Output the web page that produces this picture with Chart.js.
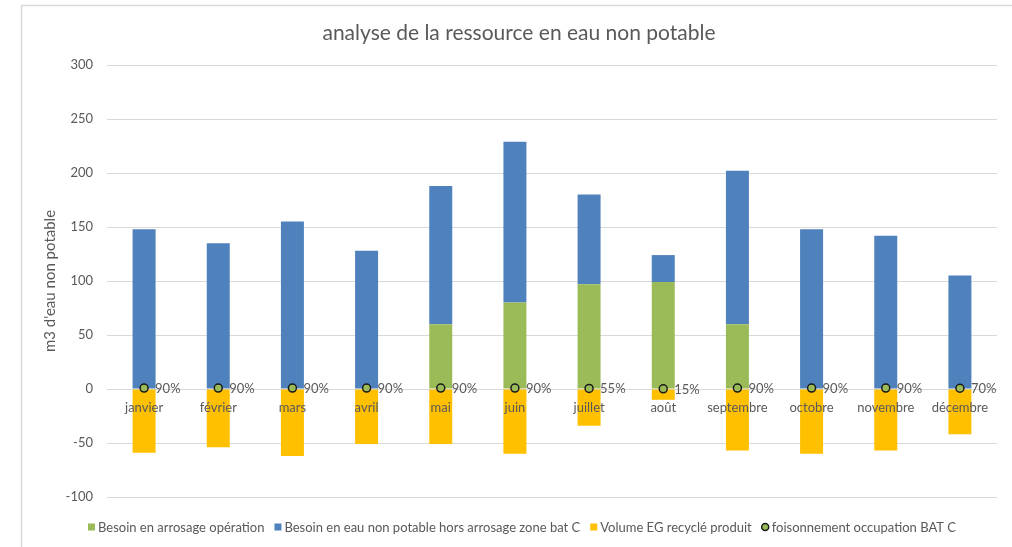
<!DOCTYPE html>
<html>
<head>
<meta charset="utf-8">
<script src="https://cdn.jsdelivr.net/npm/chart.js@4/dist/chart.umd.min.js"></script>
<style>
  html, body { margin: 0; padding: 0; background: #fff; overflow: hidden; }
  #wrap { position: absolute; left: 0; top: 0; width: 1012px; height: 547px; }
</style>
</head>
<body>
<div id="wrap"><canvas id="chart"></canvas></div>
<script>
// Monthly data (m3)
var months = ['janvier', 'février', 'mars', 'avril', 'mai', 'juin', 'juillet', 'août', 'septembre', 'octobre', 'novembre', 'décembre'];
var arrosage = [0, 0, 0, 0, 60, 80, 97, 99, 60, 0, 0, 0];
var horsArrosage = [148, 135, 155, 128, 128, 149, 83, 25, 142, 148, 142, 105];
var recycle = [-59, -54, -62, -51, -51, -60, -34, -10, -57, -60, -57, -42];
var foisonnement = [90, 90, 90, 90, 90, 90, 55, 15, 90, 90, 90, 70]; // %

var TEXT = '#595959';
var FONT = 'Lato, "Liberation Sans", sans-serif';

// Labels, legend and frame painted on the canvas
var decorations = {
    id: 'decorations',
    beforeDraw: function(chart) {
        var ctx = chart.ctx;
        ctx.save();
        ctx.strokeStyle = '#d9d9d9';
        ctx.lineWidth = 1.5;
        ctx.beginPath();
        ctx.moveTo(21.5, 547);
        ctx.lineTo(21.5, 5.5);
        ctx.lineTo(1012, 5.5);
        ctx.stroke();

        ctx.fillStyle = TEXT;
        ctx.textAlign = 'center';
        ctx.textBaseline = 'middle';
        ctx.font = '21px ' + FONT;
        ctx.fillText('analyse de la ressource en eau non potable', 519, 33);

        var area = chart.chartArea;
        ctx.translate(50, (area.top + area.bottom) / 2);
        ctx.rotate(-Math.PI / 2);
        ctx.font = '15px ' + FONT;
        ctx.fillText("m3 d'eau non potable", 0, 0);
        ctx.restore();
    },
    afterDatasetsDraw: function(chart) {
        var ctx = chart.ctx;
        var x = chart.scales.x, y = chart.scales.y;
        var zero = y.getPixelForValue(0);
        ctx.save();
        ctx.font = '13px ' + FONT;
        ctx.fillStyle = TEXT;
        ctx.textBaseline = 'middle';

        // month names just under the zero line
        ctx.textAlign = 'center';
        months.forEach(function(m, i) {
            ctx.fillText(m, x.getPixelForValue(i), zero + 19);
        });

        // percentage next to each point
        ctx.textAlign = 'left';
        var meta = chart.getDatasetMeta(3);
        meta.data.forEach(function(pt, i) {
            ctx.fillText(foisonnement[i] + '%', pt.x + 11, pt.y + 0.5);
        });

        // legend
        var items = chart.data.datasets.map(function(ds) {
            return { text: ds.label, color: ds.backgroundColor, point: ds.type === 'line' };
        });
        var box = 7, gap = 3, spacing = 10;
        var total = 0;
        items.forEach(function(it) {
            it.w = box + gap + ctx.measureText(it.text).width;
            total += it.w;
        });
        total += spacing * (items.length - 1);
        var lx = 522 - total / 2, ly = 527;
        items.forEach(function(it) {
            if (it.point) {
                ctx.beginPath();
                ctx.arc(lx + box / 2, ly, 3.5, 0, Math.PI * 2);
                ctx.fillStyle = it.color;
                ctx.fill();
                ctx.lineWidth = 1.5;
                ctx.strokeStyle = '#1a1a1a';
                ctx.stroke();
            } else {
                ctx.fillStyle = it.color;
                ctx.fillRect(lx, ly - box / 2, box, box);
            }
            ctx.fillStyle = TEXT;
            ctx.fillText(it.text, lx + box + gap, ly + 0.5);
            lx += it.w + spacing;
        });
        ctx.restore();
    }
};

var barOpts = { categoryPercentage: 1, barPercentage: 0.31, borderWidth: 0, stack: 's', order: 1 };

new Chart(document.getElementById('chart'), {
    type: 'bar',
    data: {
        labels: months,
        datasets: [
            Object.assign({ label: 'Besoin en arrosage opération', data: arrosage, backgroundColor: '#9BBB59' }, barOpts),
            Object.assign({ label: 'Besoin en eau non potable hors arrosage zone bat C', data: horsArrosage, backgroundColor: '#4F81BD' }, barOpts),
            Object.assign({ label: 'Volume EG recyclé produit', data: recycle, backgroundColor: '#FFC000' }, barOpts),
            {
                type: 'line',
                label: 'foisonnement occupation BAT C',
                data: foisonnement.map(function(p) { return p / 100; }),
                order: 0,
                showLine: false,
                backgroundColor: '#9BBB59',
                borderColor: '#1a1a1a',
                pointRadius: 4,
                pointBorderWidth: 1.5,
                pointBackgroundColor: '#9BBB59',
                pointBorderColor: '#1a1a1a'
            }
        ]
    },
    options: {
        responsive: true,
        maintainAspectRatio: false,
        animation: false,
        layout: { padding: { top: 65, bottom: 50, right: 15, left: 0 } },
        plugins: {
            legend: { display: false },
            title: { display: false },
            tooltip: { enabled: false }
        },
        scales: {
            x: {
                stacked: true,
                display: false
            },
            y: {
                stacked: true,
                min: -100,
                max: 300,
                afterFit: function(scale) { scale.width = 107; },
                border: { display: false },
                grid: { color: '#d9d9d9', drawTicks: false },
                ticks: {
                    stepSize: 50,
                    padding: 14,
                    color: TEXT,
                    font: { family: FONT, size: 13 }
                }
            }
        }
    },
    plugins: [decorations]
});
</script>
</body>
</html>
